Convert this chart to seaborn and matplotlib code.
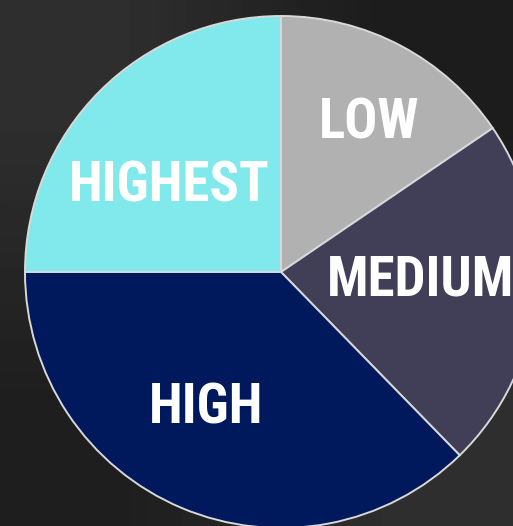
import numpy as np
import matplotlib
matplotlib.use("Agg")
import matplotlib.pyplot as plt
import seaborn as sns

# dados do gráfico
categorias = ["LOW", "MEDIUM", "HIGH", "HIGHEST"]
valores = [15.5, 22.2, 37.3, 25.0]
cores = ["#b0b1b0", "#413f58", "#00195c", "#81e9ec"]

sns.set_theme(style="white")
plt.rcParams["font.family"] = ["Liberation Sans Narrow", "Roboto Condensed", "DejaVu Sans"]

W, H = 513, 526
fig = plt.figure(figsize=(W / 100, H / 100), dpi=100)

# fundo escuro com gradiente diagonal
bg = fig.add_axes([0, 0, 1, 1], zorder=0)
cantos = np.array([[0.18, 0.11], [0.12, 0.18]])
bg.imshow(cantos, cmap="gray", vmin=0, vmax=1, interpolation="bilinear",
          extent=[0, 1, 0, 1], aspect="auto")
bg.set_axis_off()

# pizza: centro (281, 272) px, raio 256 px
cx, cy, r = 281, 272, 256
ax = fig.add_axes([(cx - r) / W, (H - cy - r) / H, 2 * r / W, 2 * r / H], zorder=1)
ax.patch.set_alpha(0)

wedges, textos = ax.pie(
    valores, labels=categorias, colors=cores, startangle=90, counterclock=False,
    radius=1, labeldistance=0.6,
    wedgeprops=dict(edgecolor="#d8d8d8", linewidth=1.4),
    textprops=dict(color="white", fontsize=39.5, fontweight="bold",
                   fontstretch="condensed", ha="center", va="center"),
)

# ajuste fino da posição dos rótulos
dist = {"LOW": 0.69, "MEDIUM": 0.545, "HIGH": 0.59, "HIGHEST": 0.56}
desvio = {"LOW": -2, "MEDIUM": 4.5, "HIGH": -7, "HIGHEST": 6}
dy = -0.02  # desce um pouco os textos
for w, t in zip(wedges, textos):
    nome = t.get_text()
    ang = np.deg2rad((w.theta1 + w.theta2) / 2 + desvio[nome])
    t.set_position((dist[nome] * np.cos(ang), dist[nome] * np.sin(ang) + dy))
    t.set_horizontalalignment("center")
    t.set_verticalalignment("center")

ax.set_xlim(-1, 1)
ax.set_ylim(-1, 1)
ax.set_aspect("equal")
ax.set_axis_off()

fig.savefig("out.png", dpi=100)
